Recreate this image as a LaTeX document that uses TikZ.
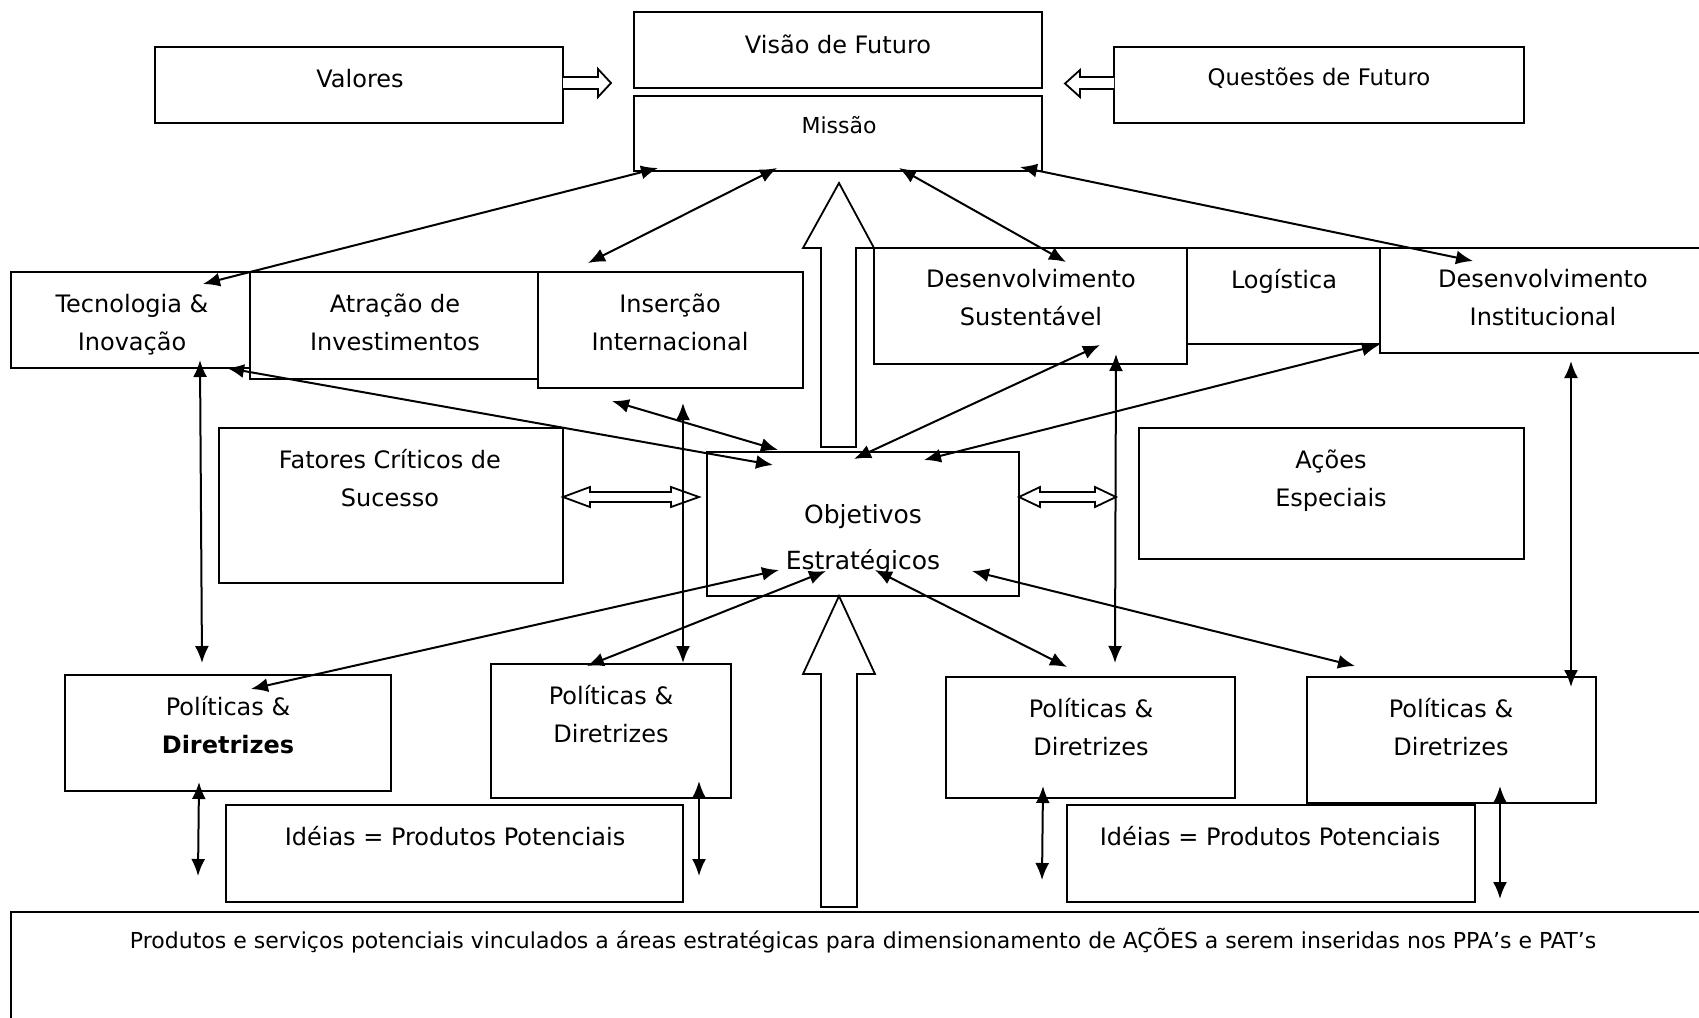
\documentclass[tikz,border=0pt]{standalone}
\usepackage{fontspec}
\setmainfont{DejaVu Sans}
\usetikzlibrary{arrows.meta}
\newcommand\mkbox[5]{\node[box, minimum width={(#4-#2)*0.5pt}, minimum height={(#5-#3)*0.5pt}] (#1) at ({(#2+#4)/2},{(#3+#5)/2}) {};}
\begin{document}
\begin{tikzpicture}[x=0.5pt,y=-0.5pt,
  box/.style={draw, line width=1pt, inner sep=0pt, outer sep=0pt, fill=white},
  lbl/.style={font=\fontsize{12}{18.75}\selectfont, align=center, anchor=base, inner sep=0pt},
  lblsmall/.style={font=\fontsize{11.4}{14}\selectfont, anchor=base, inner sep=0pt},
  conn/.style={line width=1pt, {Latex[length=8.5pt,width=7pt]}-{Latex[length=8.5pt,width=7pt]}},
  hollow/.style={draw, line width=0.9pt, fill=white, line join=miter}]
\useasboundingbox (0,0) rectangle (1699,1018);
\clip (0,0) rectangle (1699,1018);
\fill[white] (0,0) rectangle (1699,1018);

% boxes
\mkbox{valores}{155}{47}{563}{123}
\mkbox{visao}{634}{12}{1042}{88}
\mkbox{missao}{634}{96}{1042}{171}
\mkbox{questoes}{1114}{47}{1524}{123}
\mkbox{tec}{11}{272}{250}{368}
\mkbox{atr}{250}{272}{539}{379}
\mkbox{ins}{538}{272}{803}{388}
\mkbox{dsust}{874}{248}{1187}{364}
\mkbox{logi}{1187}{248}{1380}{344}
\mkbox{dinst}{1380}{248}{1712}{353}
\mkbox{fat}{219}{428}{563}{583}
\mkbox{obj}{707}{452}{1019}{596}
\mkbox{acoes}{1139}{428}{1524}{559}
\mkbox{pda}{65}{675}{391}{791}
\mkbox{pdb}{491}{664}{731}{798}
\mkbox{pdc}{946}{677}{1235}{798}
\mkbox{pdd}{1307}{677}{1596}{803}
\mkbox{ida}{226}{805}{683}{902}
\mkbox{idb}{1067}{805}{1475}{902}
\mkbox{prod}{11}{912}{1712}{1030}

% texts (anchor=base is the baseline of the last line)
\node[lbl] (t-valores) at (360,87.5) {Valores};
\node[lbl] (t-visao) at (838,53) {Visão de Futuro};
\node[lblsmall, font=\fontsize{11}{14}\selectfont] (t-missao) at (839,133) {Missão};
\node[lblsmall] (t-questoes) at (1319,85.5) {Questões de Futuro};
\node[lbl] (t-tec) at (132,350) {Tecnologia \&\\Inovação};
\node[lbl] (t-atr) at (395,350) {Atração de\\Investimentos};
\node[lbl] (t-ins) at (670,350) {Inserção\\Internacional};
\node[lbl] (t-dsust) at (1031,325) {Desenvolvimento\\Sustentável};
\node[lbl] (t-logi) at (1284,288) {Logística};
\node[lbl] (t-dinst) at (1543,325) {Desenvolvimento\\Institucional};
\node[lbl] (t-fat) at (390,506) {Fatores Críticos de\\Sucesso};
\node[lbl, font=\fontsize{12.5}{23.25}\selectfont] (t-obj) at (863,569.5) {Objetivos\\Estratégicos};
\node[lbl] (t-acoes) at (1331,506) {Ações\\Especiais};
\node[lbl] (t-pda) at (228,753) {Políticas \&\\\textbf{Diretrizes}};
\node[lbl] (t-pdb) at (611,742) {Políticas \&\\Diretrizes};
\node[lbl] (t-pdc) at (1091,755) {Políticas \&\\Diretrizes};
\node[lbl] (t-pdd) at (1451,755) {Políticas \&\\Diretrizes};
\node[lbl] (t-ida) at (455,845) {Idéias = Produtos Potenciais};
\node[lbl] (t-idb) at (1270,845) {Idéias = Produtos Potenciais};
\node[lblsmall, font=\fontsize{11}{13}\selectfont] (t-prod) at (863,948) {Produtos e serviços potenciais vinculados a áreas estratégicas para dimensionamento de AÇÕES a serem inseridas nos PPA’s e PAT’s};

% hollow block arrows
\draw[hollow] (563,77) -- (598,77) -- (598,69) -- (611,83) -- (598,97) -- (598,89) -- (563,89);
\draw[hollow] (1114,77) -- (1080,77) -- (1080,70) -- (1065,83.5) -- (1080,97) -- (1080,89) -- (1114,89);
\draw[hollow] (563,497) -- (590,487) -- (590,492) -- (671,492) -- (671,487) -- (699,497) -- (671,507) -- (671,502) -- (590,502) -- (590,507) -- cycle;
\draw[hollow] (1019,497) -- (1040,487) -- (1040,492) -- (1095,492) -- (1095,487) -- (1116,497) -- (1095,507) -- (1095,502) -- (1040,502) -- (1040,507) -- cycle;
\draw[hollow] (821,447) -- (821,248) -- (803,248) -- (839,183) -- (874,248) -- (856,248) -- (856,447) -- cycle;
\draw[hollow] (821,907) -- (821,674) -- (803,674) -- (839,596) -- (875,674) -- (857,674) -- (857,907) -- cycle;

% connector end points
\coordinate (c1a) at (203,284);  \coordinate (c1b) at (658,168);
\coordinate (c2a) at (588,263);  \coordinate (c2b) at (777,168);
\coordinate (c3a) at (899,168);  \coordinate (c3b) at (1066,262);
\coordinate (c4a) at (1020,167); \coordinate (c4b) at (1473,261);
\coordinate (c5a) at (227,368);  \coordinate (c5b) at (773,465);
\coordinate (c6a) at (612,401);  \coordinate (c6b) at (778,450);
\coordinate (c7a) at (683,403);  \coordinate (c7b) at (683,663);
\coordinate (c8a) at (1100,345); \coordinate (c8b) at (854,459);
\coordinate (c9a) at (1379,345); \coordinate (c9b) at (924,460);
\coordinate (c10a) at (1116,354); \coordinate (c10b) at (1115,663);
\coordinate (c11a) at (1571,361); \coordinate (c11b) at (1571,687);
\coordinate (c12a) at (200,360); \coordinate (c12b) at (202,663);
\coordinate (c13a) at (251,689); \coordinate (c13b) at (779,570);
\coordinate (c14a) at (587,666); \coordinate (c14b) at (826,571);
\coordinate (c15a) at (875,570); \coordinate (c15b) at (1067,667);
\coordinate (c16a) at (972,571); \coordinate (c16b) at (1355,666);
\coordinate (c17a) at (199,782); \coordinate (c17b) at (198,876);
\coordinate (c18a) at (699,781); \coordinate (c18b) at (699,876);
\coordinate (c19a) at (1043,786); \coordinate (c19b) at (1042,880);
\coordinate (c20a) at (1500,786); \coordinate (c20b) at (1500,899);

\foreach \i in {1,...,20} {\draw[conn] (c\i a) -- (c\i b);}
\end{tikzpicture}
\end{document}
